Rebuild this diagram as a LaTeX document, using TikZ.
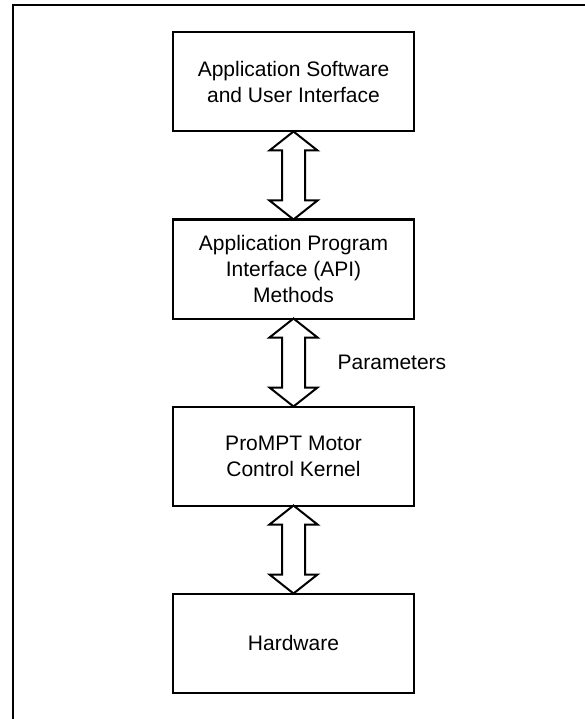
\documentclass[tikz,border=0pt]{standalone}
\usepackage{fontspec}
\setmainfont{Liberation Sans}
\usetikzlibrary{positioning, calc}

\tikzset{
    layer/.style={draw, line width=2pt, fill=white, minimum width=241pt,
        minimum height=99pt, inner sep=0pt, outer sep=0pt, align=center,
        font=\fontsize{21}{26}\selectfont},
    hollow/.style={draw, line width=2pt, fill=white, line join=miter},
    frame/.style={draw, line width=2pt},
    tag/.style={font=\fontsize{21}{26}\selectfont, inner sep=0pt}
}

% open double arrow from the bottom of #1 to the top of #2
\newcommand{\twoway}[2]{
    \draw[hollow] let \p1=(#1.south), \p2=(#2.north) in
        (\p1) -- (\x1+24pt,\y1-19pt) -- (\x1+11.5pt,\y1-19pt)
        -- (\x1+11.5pt,\y2+19pt) -- (\x1+24pt,\y2+19pt) -- (\p2)
        -- (\x1-24pt,\y2+19pt) -- (\x1-11.5pt,\y2+19pt)
        -- (\x1-11.5pt,\y1-19pt) -- (\x1-24pt,\y1-19pt) -- cycle;
}

\begin{document}
\begin{tikzpicture}[x=1pt, y=-1pt]
    \useasboundingbox (0,0) rectangle (585,719);
    \draw[frame] (13,720) -- (13,5) -- (586,5);

    \node[layer] (app) at (293.5,82) {Application Software\\and User Interface};
    \node[layer, below=88pt of app] (api) {Application Program\\Interface (API)\\Methods};
    \node[layer, below=88pt of api] (kernel) {ProMPT Motor\\Control Kernel};
    \node[layer, below=88pt of kernel] (hw) {Hardware};

    \twoway{app}{api}
    \twoway{api}{kernel}
    \twoway{kernel}{hw}

    \node[tag, anchor=west] (params) at ($(api.south)!0.5!(kernel.north)+(44pt,0)$) {Parameters};
\end{tikzpicture}
\end{document}
